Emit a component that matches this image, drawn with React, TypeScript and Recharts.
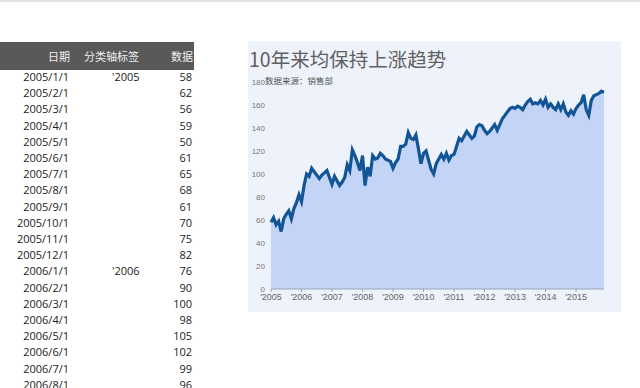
import React from "react";
import { AreaChart, Area, XAxis, YAxis } from "recharts";

const startYear = 2005;
const values = [
  58, 62, 56, 59, 50, 61, 65, 68, 61, 70, 75, 82,
  76, 90, 100, 98, 105, 102, 99, 96, 99, 101, 103, 97,
  91, 98, 94, 90, 93, 97, 108, 103, 121, 116, 110, 103,
  116, 90, 106, 98, 116, 113, 114, 118, 116, 113, 112, 111,
  105, 110, 113, 124, 124, 126, 136, 131, 130, 134, 122, 109,
  118, 120, 112, 104, 100, 109, 113, 117, 113, 118, 112, 116,
  117, 124, 131, 129, 133, 137, 134, 131, 133, 141, 143, 142,
  138, 135, 137, 140, 143, 138, 143, 148, 151, 154, 157, 158,
  157, 159, 158, 156, 160, 163, 165, 161, 162, 161, 164, 160,
  165, 158, 161, 158, 156, 161, 156, 161, 154, 151, 155, 152,
  157, 160, 162, 169, 156, 151, 164, 168, 169, 170, 172, 171,
];
const yTicks = [0, 20, 40, 60, 80, 100, 120, 140, 160, 180];
const headers = ["日期", "分类轴标签", "数据"];
const title = "10年来均保持上涨趋势";
const subtitle = "数据来源：销售部";

const data = values.map((v, i) => {
  const y = startYear + Math.floor(i / 12);
  return {
    i,
    date: `${y}/${(i % 12) + 1}/1`,
    label: i % 12 === 0 ? `'${y}` : "",
    value: v,
  };
});
const xTicks = data.filter((d) => d.label !== "").map((d) => d.i);
const tableRows = data.slice(0, 20);

const tableFont = "'Open Sans', 'Noto Sans CJK SC', sans-serif";

export default function App() {
  return (
    <div
      style={{
        position: "fixed",
        left: 0,
        top: 0,
        width: 640,
        height: 388,
        background: "#ffffff",
        overflow: "hidden",
        borderTop: "2px solid #e2e2e2",
        boxSizing: "border-box",
      }}
    >
      {/* table */}
      <div
        style={{
          position: "absolute",
          left: 0,
          top: 40,
          width: 194,
          height: 28,
          background: "#595959",
          color: "#f0f0f0",
          fontFamily: "'Noto Sans CJK SC', sans-serif",
          fontSize: 11,
        }}
      >
        <div style={{ position: "absolute", right: 124, top: 6 }}>{headers[0]}</div>
        <div style={{ position: "absolute", left: 84, top: 6 }}>{headers[1]}</div>
        <div style={{ position: "absolute", right: 1, top: 6 }}>{headers[2]}</div>
      </div>
      {tableRows.map((r, k) => (
        <div
          key={r.i}
          style={{
            position: "absolute",
            left: 0,
            top: 67 + k * 16.2,
            width: 194,
            height: 16,
            lineHeight: "16px",
            fontFamily: tableFont,
            fontSize: 11,
            color: "#222",
          }}
        >
          <div style={{ position: "absolute", right: 125 }}>{r.date}</div>
          <div style={{ position: "absolute", left: 112 }}>{r.label}</div>
          <div style={{ position: "absolute", right: 2 }}>{r.value}</div>
        </div>
      ))}

      {/* chart panel */}
      <div
        style={{
          position: "absolute",
          left: 248,
          top: 39,
          width: 373,
          height: 271,
          background: "#eef2fb",
          fontFamily: "'Liberation Sans', sans-serif",
        }}
      >
        <AreaChart
          width={373}
          height={271}
          data={data}
          margin={{ top: 41, right: 17, left: 0, bottom: 0 }}
        >
          <XAxis
            dataKey="i"
            type="number"
            domain={[0, values.length - 1]}
            ticks={xTicks}
            tickFormatter={(i: number) => data[i].label}
            height={23}
            stroke="#9aa5b8"
            tickSize={3}
            tickMargin={2}
            tick={{ fontSize: 9, fill: "#666" }}
            interval={0}
          />
          <YAxis
            domain={[0, 180]}
            ticks={yTicks}
            width={23}
            axisLine={false}
            tickLine={false}
            tickSize={4}
            tickMargin={2}
            tick={{ fontSize: 8, fill: "#777" }}
            interval={0}
          />
          <Area
            type="linear"
            dataKey="value"
            stroke="#125596"
            strokeWidth={3.2}
            fill="#c3d4f7"
            fillOpacity={1}
            dot={false}
            activeDot={false}
            isAnimationActive={false}
          />
        </AreaChart>
        <div
          style={{
            position: "absolute",
            left: 1,
            top: 5,
            fontFamily: "'Noto Sans CJK SC', sans-serif",
            fontSize: 19.5,
            color: "#606060",
            whiteSpace: "nowrap",
            lineHeight: "26px",
          }}
        >
          {title}
        </div>
        <div
          style={{
            position: "absolute",
            left: 17,
            top: 33,
            fontFamily: "'Noto Sans CJK SC', sans-serif",
            fontSize: 8.5,
            color: "#555",
            whiteSpace: "nowrap",
            lineHeight: "12px",
          }}
        >
          {subtitle}
        </div>
      </div>
    </div>
  );
}
